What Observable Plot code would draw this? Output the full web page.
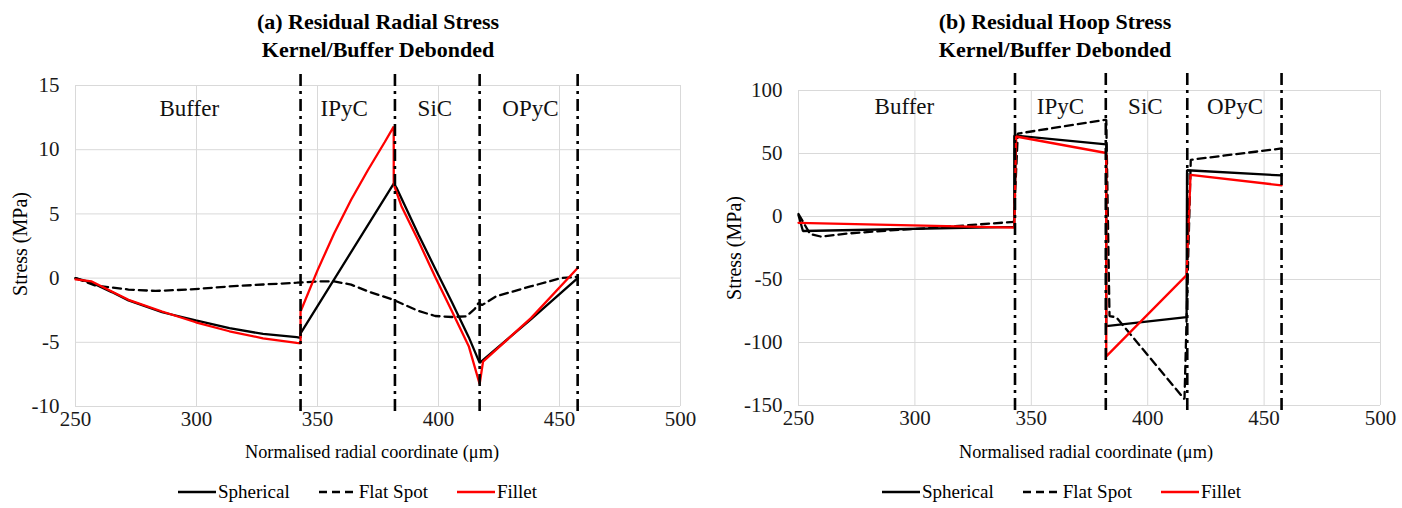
<!DOCTYPE html>
<html>
<head>
<meta charset="utf-8">
<script src="https://cdn.jsdelivr.net/npm/d3@7"></script>
<script src="https://cdn.jsdelivr.net/npm/@observablehq/plot@0.6"></script>
<style>
  html, body { margin: 0; padding: 0; background: #fff; }
  #wrap { position: relative; width: 1402px; height: 508px; font-family: "Liberation Serif", "Times New Roman", serif; color: #000; overflow: hidden; }
  #wrap svg text { font-family: "Liberation Serif", "Times New Roman", serif; }
  #wrap svg g[aria-label="x-axis tick label"], #wrap svg g[aria-label="y-axis tick label"] { font-size: 21px; }
  .abs { position: absolute; }
  .title { font-weight: bold; font-size: 22px; text-align: center; line-height: 28px; white-space: nowrap; transform: translateX(-50%); }
  .xlab { font-size: 18.3px; white-space: nowrap; transform: translate(-50%, -50%); }
  .ylab { font-size: 20px; white-space: nowrap; transform: translate(-50%, -50%) rotate(-90deg); }
  .legend { display: flex; align-items: center; font-size: 19px; white-space: nowrap; transform: translateY(-50%); }
  .legend .item { display: flex; align-items: center; margin-right: 29px; }
  .legend svg { margin-right: 2px; }
</style>
</head>
<body>
<div id="wrap"></div>
<script>
// ---------- data ----------
const xTicks = [250, 300, 350, 400, 450, 500];
const radialTicks = [-10, -5, 0, 5, 10, 15];
const hoopTicks = [-150, -100, -50, 0, 50, 100];
const boundaries = [343, 382, 417, 457.5];
const regionNames = ["Buffer", "IPyC", "SiC", "OPyC"];
const regionLabelXRadial = [297, 361, 398.5, 438];
const regionLabelXHoop = [295.5, 362.5, 399, 437.5];
const seriesNames = ["Spherical", "Flat Spot", "Fillet"];

// (a) radial stress
const sphericalRadialX = [250, 256.7, 265, 271.9, 285.8, 299.7, 313.6, 327.5, 341.4, 343, 343, 381.5, 382.6, 391.7, 398.6, 405.6, 412.5, 417, 438.3, 457.5];
const sphericalRadialY = [0, -0.36, -1.09, -1.74, -2.66, -3.3, -3.9, -4.35, -4.6, -4.65, -4.3, 7.36, 7.05, 3.4, 0.75, -1.9, -4.6, -6.6, -3.2, 0];
const flatRadialX = [250, 258, 271.9, 283, 297, 313.6, 327.5, 341.4, 350, 356.9, 363.9, 370.8, 381, 391.7, 398.6, 405.6, 411.5, 415, 416.5, 418, 423.8, 438, 450.7, 457.5];
const flatRadialY = [0, -0.57, -0.89, -1.0, -0.89, -0.65, -0.5, -0.36, -0.26, -0.26, -0.51, -1.03, -1.67, -2.56, -2.95, -3.03, -2.98, -2.4, -1.94, -2.1, -1.42, -0.65, 0, 0.1];
const filletRadialX = [250, 256.7, 265, 271.9, 285.8, 299.7, 313.6, 327.5, 341.4, 343, 343, 350, 356.9, 363.9, 370.8, 377.8, 381.5, 381.5, 384.7, 391.7, 398.6, 405.6, 412.5, 417, 418.4, 438.3, 457.5];
const filletRadialY = [-0.1, -0.26, -1.04, -1.69, -2.6, -3.44, -4.14, -4.69, -5.05, -5.08, -2.6, 0.6, 3.5, 6.1, 8.4, 10.6, 11.8, 7.3, 5.6, 2.9, 0.1, -2.6, -5.3, -8.25, -6.5, -3.1, 0.78];

// (b) hoop stress
const sphericalHoopX = [250, 251.9, 342.7, 342.7, 382.2, 382.2, 416.7, 416.9, 457.5];
const sphericalHoopY = [1, -11.5, -8.3, 64.3, 57.3, -87, -79.8, 36.7, 32.6];
const flatHoopX = [250, 255, 259.8, 271.3, 285.6, 307, 342.5, 344.2, 382.2, 383.6, 386.5, 415.8, 418.5, 457.5];
const flatHoopY = [2, -14, -16, -13.5, -11.5, -9, -4.3, 65.8, 76.8, -79, -80, -145, 45, 54];
const filletHoopX = [250, 342.7, 343.5, 382.2, 382.2, 416.7, 418.4, 457.5];
const filletHoopY = [-5, -8.8, 63.5, 50.4, -111, -46.5, 33, 24.7];

// ---------- helpers ----------
const pts = (xs, ys) => xs.map((x, i) => ({x, y: ys[i]}));
const styles = {
  "Spherical": {stroke: "#000", dash: null},
  "Flat Spot": {stroke: "#000", dash: "8,5"},
  "Fillet": {stroke: "#ff0000", dash: null}
};
const serif = "'Liberation Serif', 'Times New Roman', serif";

function panel(cfg) {
  const [y0, y1] = cfg.yDomain;
  const span = y1 - y0;
  const plotH = cfg.height - cfg.mt - cfg.mb;
  const ext = (px) => px / plotH * span;
  const regionData = regionNames.map((n, i) => ({n, x: cfg.regionX[i]}));
  const marks = [
    Plot.gridX(xTicks, {stroke: "#d9d9d9", strokeOpacity: 1, strokeWidth: 1}),
    Plot.gridY(cfg.yTicks, {stroke: "#d9d9d9", strokeOpacity: 1, strokeWidth: 1}),
    Plot.axisX(xTicks, {tickSize: 0, tickPadding: 5, fontSize: 21, label: null, fill: "#1a1a1a", fontFamily: serif, tickFormat: d => String(d)}),
    Plot.axisY(cfg.yTicks, {tickSize: 0, tickPadding: 16, fontSize: 21, label: null, fill: "#1a1a1a", fontFamily: serif, tickFormat: d => String(d)}),
  ];
  cfg.series.forEach(s => {
    marks.push(Plot.line(pts(s.x, s.y), {x: "x", y: "y", stroke: styles[s.name].stroke, strokeWidth: 2.3, strokeDasharray: styles[s.name].dash, strokeLinejoin: "miter"}));
  });
  marks.push(Plot.ruleX(boundaries, {y1: y1 + ext(cfg.extTop), y2: y0 - ext(10), stroke: "#000", strokeWidth: 2.6, strokeDasharray: "12,5,3,5"}));
  marks.push(Plot.text(regionData, {x: "x", y: cfg.labelY, text: "n", fontSize: 23, fill: "#111", fontFamily: serif}));
  return Plot.plot({
    width: cfg.width, height: cfg.height,
    marginTop: cfg.mt, marginBottom: cfg.mb, marginLeft: cfg.ml, marginRight: cfg.mr,
    style: {fontFamily: serif, fontSize: "21px", background: "transparent", overflow: "visible"},
    x: {domain: [250, 500]},
    y: {domain: cfg.yDomain},
    marks
  });
}

const wrap = document.getElementById("wrap");
function add(el, left, top) { el.classList.add("abs"); el.style.left = left + "px"; el.style.top = top + "px"; wrap.appendChild(el); return el; }
function div(cls, html) { const d = document.createElement("div"); d.className = cls; d.innerHTML = html; return d; }

const left = panel({
  width: 700, height: 440, mt: 85, mb: 34, ml: 75, mr: 20,
  yDomain: [-10, 15], yTicks: radialTicks, extTop: 11, labelY: 13.2,
  regionX: regionLabelXRadial,
  series: [
    {name: "Spherical", x: sphericalRadialX, y: sphericalRadialY},
    {name: "Flat Spot", x: flatRadialX, y: flatRadialY},
    {name: "Fillet", x: filletRadialX, y: filletRadialY}
  ]
});
add(left, 0, 0);

const right = panel({
  width: 702, height: 440, mt: 90, mb: 35, ml: 98, mr: 22,
  yDomain: [-150, 100], yTicks: hoopTicks, extTop: 17, labelY: 87,
  regionX: regionLabelXHoop,
  series: [
    {name: "Spherical", x: sphericalHoopX, y: sphericalHoopY},
    {name: "Flat Spot", x: flatHoopX, y: flatHoopY},
    {name: "Fillet", x: filletHoopX, y: filletHoopY}
  ]
});
add(right, 700, 0);

add(div("title", "(a) Residual Radial Stress<br>Kernel/Buffer Debonded"), 378, 8);
add(div("title", "(b) Residual Hoop Stress<br>Kernel/Buffer Debonded"), 1055, 8);
add(div("xlab", "Normalised radial coordinate (μm)"), 372, 452);
add(div("xlab", "Normalised radial coordinate (μm)"), 1086, 452);
add(div("ylab", "Stress (MPa)"), 20, 244);
add(div("ylab", "Stress (MPa)"), 734, 248);

function legend(x, y) {
  const d = document.createElement("div");
  d.className = "legend";
  seriesNames.forEach(n => {
    const it = document.createElement("div");
    it.className = "item";
    const st = styles[n];
    it.innerHTML = `<svg width="38" height="6"><line x1="0" y1="3" x2="38" y2="3" stroke="${st.stroke}" stroke-width="2.5" ${st.dash ? `stroke-dasharray="8,5"` : ""}/></svg><span>${n}</span>`;
    d.appendChild(it);
  });
  add(d, x, y);
}
legend(178, 492);
legend(882, 492);
</script>
</body>
</html>
